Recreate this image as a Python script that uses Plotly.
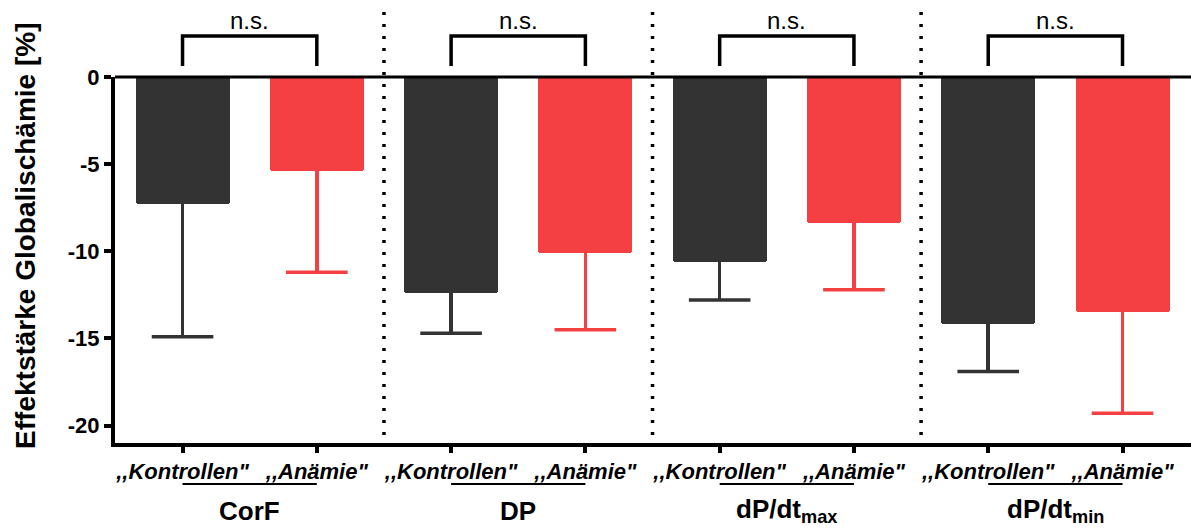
import plotly.graph_objects as go

# Parameters and groups
parameters = ["CorF", "DP", "dP/dt<sub>max</sub>", "dP/dt<sub>min</sub>"]
groups = [',,Kontrollen"', ',,Anämie"']

# Mean effect size (%) and lower SD per parameter
kontrollen_mean = [-7.3, -12.4, -10.6, -14.2]
kontrollen_sd = [7.6, 2.3, 2.2, 2.7]
anaemie_mean = [-5.4, -10.1, -8.4, -13.5]
anaemie_sd = [5.8, 4.4, 3.8, 5.8]

significance = ["n.s.", "n.s.", "n.s.", "n.s."]

y_ticks = [0, -5, -10, -15, -20]

DARK = "#333333"
RED = "#F44043"
FONT = "Liberation Sans, Arial, sans-serif"

n = len(parameters)
x_k = [2 * i for i in range(n)]
x_a = [2 * i + 1 for i in range(n)]

fig = go.Figure()

for xs, means, sds, col in [(x_k, kontrollen_mean, kontrollen_sd, DARK),
                            (x_a, anaemie_mean, anaemie_sd, RED)]:
    # bars with a downward-only whisker (cap drawn separately)
    fig.add_trace(go.Bar(
        x=xs, y=means, width=0.70,
        marker=dict(color=col, cornerradius=3, line=dict(width=0)),
        error_y=dict(type="data", symmetric=False, array=[0] * n,
                     arrayminus=sds, color=col, thickness=3.5, width=0),
        showlegend=False, hoverinfo="skip",
    ))
    # whisker caps at mean - SD
    fig.add_trace(go.Scatter(
        x=xs, y=[m - s for m, s in zip(means, sds)], mode="markers",
        marker=dict(symbol="line-ew", size=44, color=col,
                    line=dict(color=col, width=3.5)),
        showlegend=False, hoverinfo="skip", cliponaxis=False,
    ))

shapes = []
annotations = []

# baseline at zero across the top of the plot
shapes.append(dict(type="line", xref="paper", yref="paper", x0=0, x1=1, y0=1, y1=1,
                   line=dict(color="black", width=3)))

for i in range(n):
    xk, xa = x_k[i], x_a[i]
    # significance bracket
    shapes.append(dict(type="path", xref="x", yref="paper",
                       path=f"M {xk},1.03 L {xk},1.112 L {xa},1.112 L {xa},1.03",
                       line=dict(color="black", width=3.5)))
    annotations.append(dict(x=(xk + xa) / 2, y=1.155, xref="x", yref="paper",
                            text=significance[i], showarrow=False,
                            font=dict(family=FONT, size=24, color="black"),
                            xanchor="center", yanchor="middle"))
    # group underline and parameter label
    shapes.append(dict(type="line", xref="x", yref="paper", x0=xk, x1=xa,
                       y0=-0.112, y1=-0.112, line=dict(color="black", width=2)))
    annotations.append(dict(x=(xk + xa) / 2, y=-0.185, xref="x", yref="paper",
                            text=f"<b>{parameters[i]}</b>", showarrow=False,
                            font=dict(family=FONT, size=26, color="black"),
                            xanchor="center", yanchor="middle"))
    # dotted separator between parameters
    if i < n - 1:
        xs = (xa + x_k[i + 1]) / 2
        shapes.append(dict(type="line", xref="x", yref="paper", x0=xs, x1=xs,
                           y0=0.022, y1=1.178,
                           line=dict(color="black", width=3.5, dash="3px,9px")))

annotations.append(dict(x=-0.083, y=0.565, xref="paper", yref="paper",
                        text="<b>Effektstärke Globalischämie [%]</b>", textangle=-90,
                        showarrow=False, font=dict(family=FONT, size=28, color="black"),
                        xanchor="center", yanchor="middle"))

fig.update_layout(
    width=1191, height=531,
    margin=dict(l=115, r=0, t=77, b=88),
    plot_bgcolor="white", paper_bgcolor="white",
    bargap=0, barmode="overlay",
    shapes=shapes, annotations=annotations,
    xaxis=dict(
        range=[-0.503, 7.51], tickmode="array",
        tickvals=x_k + x_a, ticktext=[groups[0]] * n + [groups[1]] * n,
        tickfont=dict(family=FONT, size=22, color="black", weight="bold", style="italic"),
        ticks="outside", ticklen=6, tickwidth=3.5, tickcolor="black",
        showline=True, linecolor="black", linewidth=4,
        showgrid=False, zeroline=False,
    ),
    yaxis=dict(
        range=[-21, 0], tickmode="array", tickvals=y_ticks,
        ticktext=[str(v) for v in y_ticks],
        tickfont=dict(family=FONT, size=22, color="black", weight="bold"),
        ticks="outside", ticklen=7, tickwidth=3.5, tickcolor="black",
        showline=True, linecolor="black", linewidth=4,
        showgrid=False, zeroline=False,
    ),
)

fig.write_html("out.html")
